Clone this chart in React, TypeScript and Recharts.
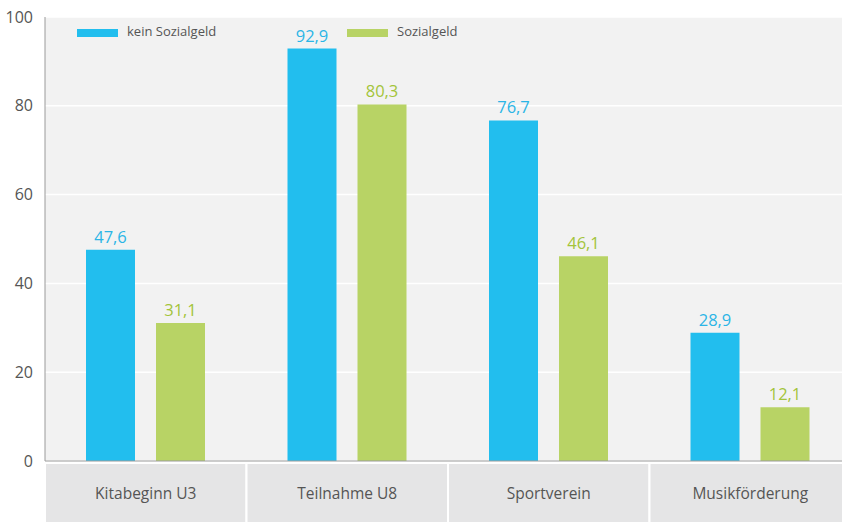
import React from "react";
import {
  BarChart,
  Bar,
  XAxis,
  YAxis,
  CartesianGrid,
  LabelList,
} from "recharts";

const categories = ["Kitabeginn U3", "Teilnahme U8", "Sportverein", "Musikförderung"];
const keinSozialgeld = [47.6, 92.9, 76.7, 28.9];
const sozialgeld = [31.1, 80.3, 46.1, 12.1];
const yTicks = [0, 20, 40, 60, 80, 100];
const seriesNames = ["kein Sozialgeld", "Sozialgeld"];

const BLUE = "#22beee";
const GREEN = "#b8d365";
const BLUE_TEXT = "#2bb5e6";
const GREEN_TEXT = "#a3c43a";
const FONT = "'Open Sans', sans-serif";

const data = categories.map((name, i) => ({
  name,
  kein: keinSozialgeld[i],
  sozial: sozialgeld[i],
}));

const fmt = (v: any) => String(v).replace(".", ",");

// grey band under each category with white separators
const CategoryTick = (props: any) => {
  const { x, y, payload, width } = props;
  const band = width / categories.length;
  return (
    <g>
      <rect
        x={x - band / 2}
        y={y}
        width={band}
        height={70}
        fill="#e5e5e6"
        stroke="#ffffff"
        strokeWidth={2}
      />
      <text
        x={x}
        y={y + 36}
        textAnchor="middle"
        fill="#555555"
        fontSize={15.5}
        fontFamily={FONT}
      >
        {payload.value}
      </text>
    </g>
  );
};

// legend drawn as overlay so it does not shrink the plot
const LegendOverlay = () => (
  <div style={{ position: "absolute", left: 0, top: 17, fontFamily: FONT, fontSize: 13, color: "#555" }}>
    <div style={{ position: "absolute", left: 77, top: 12, width: 41, height: 8, background: BLUE }} />
    <div style={{ position: "absolute", left: 127, top: 5, whiteSpace: "nowrap" }}>{seriesNames[0]}</div>
    <div style={{ position: "absolute", left: 347, top: 12, width: 41, height: 8, background: GREEN }} />
    <div style={{ position: "absolute", left: 397, top: 5, whiteSpace: "nowrap" }}>{seriesNames[1]}</div>
  </div>
);

export default function App() {
  return (
    <div
      style={{
        position: "absolute",
        left: 0,
        top: 0,
        width: 842,
        height: 522,
        overflow: "hidden",
        background: "#fff",
      }}
    >
      <BarChart
        width={851}
        height={522}
        data={data}
        margin={{ top: 17, right: 0, bottom: 0, left: 0 }}
        barCategoryGap={41}
        barGap={21}
      >
        <CartesianGrid
          vertical={false}
          stroke="#ffffff"
          strokeWidth={1.5}
          fill="#f2f2f2"
        />
        <YAxis
          width={45}
          domain={[0, 100]}
          ticks={yTicks}
          tickLine={false}
          tickSize={0}
          tickMargin={12}
          axisLine={{ stroke: "#9a9a9a" }}
          tick={{ fill: "#555555", fontSize: 16, fontFamily: FONT }}
          interval={0}
        />
        <XAxis
          dataKey="name"
          height={61}
          tickLine={false}
          tickSize={0}
          axisLine={{ stroke: "#9a9a9a" }}
          tick={<CategoryTick width={806} />}
          interval={0}
        />
        <Bar dataKey="kein" name={seriesNames[0]} fill={BLUE} barSize={49} isAnimationActive={false}>
          <LabelList
            dataKey="kein"
            position="top"
            offset={7}
            formatter={fmt}
            fill={BLUE_TEXT}
            fontSize={16.5}
            fontFamily={FONT}
          />
        </Bar>
        <Bar dataKey="sozial" name={seriesNames[1]} fill={GREEN} barSize={49} isAnimationActive={false}>
          <LabelList
            dataKey="sozial"
            position="top"
            offset={7}
            formatter={fmt}
            fill={GREEN_TEXT}
            fontSize={16.5}
            fontFamily={FONT}
          />
        </Bar>
      </BarChart>
      <LegendOverlay />
    </div>
  );
}
